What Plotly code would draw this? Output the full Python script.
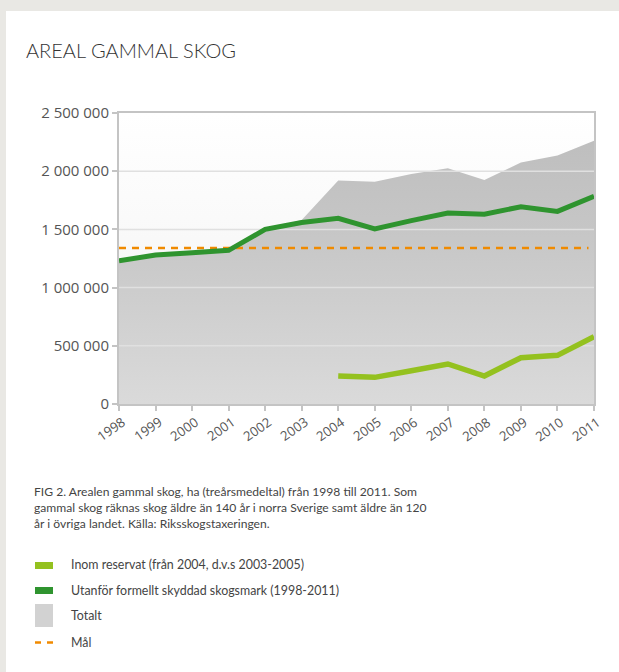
import plotly.graph_objects as go

# ---------------- data ----------------
years = [1998, 1999, 2000, 2001, 2002, 2003, 2004, 2005, 2006, 2007, 2008, 2009, 2010, 2011]
utanfor = [1230000, 1280000, 1300000, 1320000, 1500000, 1560000, 1595000, 1505000,
           1575000, 1640000, 1630000, 1695000, 1655000, 1785000]
totalt = [1230000, 1280000, 1300000, 1320000, 1500000, 1580000, 1920000, 1910000,
          1975000, 2025000, 1925000, 2075000, 2135000, 2262000]
reservat_years = [2004, 2005, 2006, 2007, 2008, 2009, 2010, 2011]
reservat = [240000, 229000, 286000, 344000, 240000, 398000, 418000, 578000]
mal_value = 1340000
y_ticks = [0, 500000, 1000000, 1500000, 2000000, 2500000]
y_ticktext = ["0", "500 000", "1 000 000", "1 500 000", "2 000 000", "2 500 000"]
x_ticktext = [str(y) for y in years]

title_text = "AREAL GAMMAL SKOG"
caption_lines = [
    "FIG 2. Arealen gammal skog, ha (treårsmedeltal) från 1998 till 2011. Som",
    "gammal skog räknas skog äldre än 140 år i norra Sverige samt äldre än 120",
    "år i övriga landet. Källa: Riksskogstaxeringen.",
]
legend_labels = [
    "Inom reservat (från 2004, d.v.s 2003-2005)",
    "Utanför formellt skyddad skogsmark (1998-2011)",
    "Totalt",
    "Mål",
]

# ---------------- styling ----------------
W, H = 619, 672
L, R, T, B = 119, 594, 113, 404  # plot area pixel box
DARK_GREEN = "#2f942f"
LIGHT_GREEN = "#94c11f"
ORANGE = "#f08a00"
TEXT = "#444444"
FRAME = "#c4c4c4"
TICK_TEXT = "#555555"


def px(x):
    return (x - L) / (R - L)


def py(y):
    return (B - y) / (B - T)


fig = go.Figure()

# light background gradient of plotting area
fig.add_trace(go.Scatter(
    x=[years[0], years[-1]], y=[y_ticks[-1], y_ticks[-1]],
    mode="lines", line=dict(width=0), fill="tozeroy",
    fillgradient=dict(type="vertical", start=0, stop=y_ticks[-1],
                      colorscale=[[0, "#f1f1f1"], [1, "#ffffff"]]),
    hoverinfo="skip", showlegend=False,
))

# Totalt area
fig.add_trace(go.Scatter(
    x=years, y=totalt, mode="lines", line=dict(width=0),
    fill="tozeroy",
    fillgradient=dict(type="vertical", start=0, stop=y_ticks[-1],
                      colorscale=[[0, "#dadada"], [0.6, "#c6c6c6"], [1, "#bcbcbc"]]),
    name="Totalt", showlegend=False,
))

# gridlines drawn above the area (derived from tick values)
for v in y_ticks[1:-1]:
    fig.add_trace(go.Scatter(
        x=[years[0], years[-1]], y=[v, v], mode="lines",
        line=dict(color="#e0e0e0", width=1.5),
        hoverinfo="skip", showlegend=False,
    ))

# Mål
fig.add_trace(go.Scatter(
    x=[years[0], years[-1] - 0.15], y=[mal_value, mal_value], mode="lines",
    line=dict(color=ORANGE, width=2.5, dash="7px,6px"),
    name="Mål", showlegend=False,
))

# Utanför
fig.add_trace(go.Scatter(
    x=years, y=utanfor, mode="lines",
    line=dict(color=DARK_GREEN, width=5),
    name=legend_labels[1], showlegend=False,
))

# Inom reservat
fig.add_trace(go.Scatter(
    x=reservat_years, y=reservat, mode="lines",
    line=dict(color=LIGHT_GREEN, width=5.5),
    name=legend_labels[0], showlegend=False,
))

shapes = [
    # white card
    dict(type="rect", xref="paper", yref="paper",
         x0=px(6), x1=px(W + 5), y0=py(11), y1=py(H + 5),
         fillcolor="white", line=dict(width=0), layer="below"),
]

annotations = [
    dict(text=title_text, xref="paper", yref="paper", x=px(24), y=py(50),
         xanchor="left", yanchor="middle", showarrow=False,
         font=dict(family="Lato", size=20, weight=300, color="#333333")),
]

# rotated year labels
for yr, txt in zip(years, x_ticktext):
    annotations.append(dict(
        text=txt, xref="x", yref="paper", x=yr, y=py(429),
        xanchor="center", yanchor="middle", xshift=-8, textangle=-35,
        showarrow=False,
        font=dict(family="Open Sans", size=13.2, color=TICK_TEXT)))

for i, line in enumerate(caption_lines):
    annotations.append(dict(
        text=line, xref="paper", yref="paper", x=px(32), y=py(491 + i * 16.3),
        xanchor="left", yanchor="middle", showarrow=False,
        font=dict(family="Lato", size=12.1, color=TEXT)))

legend_y = [564.5, 590, 615.5, 642.5]
for lbl, ly in zip(legend_labels, legend_y):
    annotations.append(dict(
        text=lbl, xref="paper", yref="paper", x=px(69), y=py(ly),
        xanchor="left", yanchor="middle", showarrow=False,
        font=dict(family="Lato", size=12.4, color=TEXT)))

# legend swatches
shapes += [
    dict(type="rect", xref="paper", yref="paper", x0=px(35), x1=px(53),
         y0=py(569), y1=py(562), fillcolor=LIGHT_GREEN, line=dict(width=0)),
    dict(type="rect", xref="paper", yref="paper", x0=px(35), x1=px(53),
         y0=py(594), y1=py(587), fillcolor=DARK_GREEN, line=dict(width=0)),
    dict(type="rect", xref="paper", yref="paper", x0=px(35), x1=px(53),
         y0=py(627), y1=py(604), fillcolor="#d2d2d2", line=dict(width=0)),
    dict(type="line", xref="paper", yref="paper", x0=px(35), x1=px(41),
         y0=py(642.5), y1=py(642.5), line=dict(color=ORANGE, width=2.5)),
    dict(type="line", xref="paper", yref="paper", x0=px(47), x1=px(53),
         y0=py(642.5), y1=py(642.5), line=dict(color=ORANGE, width=2.5)),
]

fig.update_layout(
    width=W, height=H,
    margin=dict(l=L, r=W - R, t=T, b=H - B, pad=0),
    paper_bgcolor="#e9e8e4",
    plot_bgcolor="white",
    showlegend=False,
    shapes=shapes,
    annotations=annotations,
    font=dict(family="Open Sans", color=TICK_TEXT),
    xaxis=dict(
        range=[years[0], years[-1]], tickmode="array", tickvals=years,
        showticklabels=False,
        ticks="outside", ticklen=5, tickcolor=FRAME, tickwidth=1.5,
        showgrid=False, zeroline=False,
        showline=True, linecolor=FRAME, linewidth=2, mirror=True,
    ),
    yaxis=dict(
        range=[y_ticks[0], y_ticks[-1]], tickmode="array", tickvals=y_ticks,
        ticktext=y_ticktext,
        ticks="outside", ticklen=5, tickcolor=FRAME, tickwidth=1.5,
        showgrid=False, zeroline=False,
        showline=True, linecolor=FRAME, linewidth=2, mirror=True,
        tickfont=dict(family="Open Sans", size=15, color=TICK_TEXT),
    ),
)

fig.write_html(
    "out.html",
    config={"displayModeBar": False},
    post_script="document.body.style.margin='0';document.body.style.overflow='hidden';",
)
